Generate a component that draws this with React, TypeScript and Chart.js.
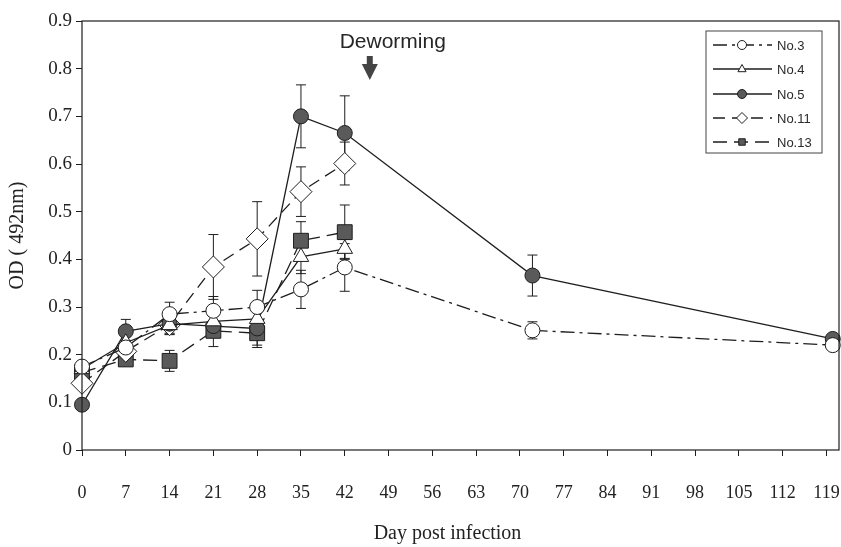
import React, { useEffect, useRef } from "react";
import { Chart, registerables } from "chart.js";

Chart.register(...registerables);

// ---- data ----
const days = [0, 7, 14, 21, 28, 35, 42, 72, 120];
const daysShort = [0, 7, 14, 21, 28, 35, 42];

const no3 = [0.175, 0.215, 0.285, 0.292, 0.3, 0.337, 0.383, 0.251, 0.22];
const no3Err = [0.01, 0.015, 0.025, 0.03, 0.035, 0.04, 0.05, 0.018, 0.008];
const no4 = [0.17, 0.225, 0.262, 0.27, 0.275, 0.405, 0.422];
const no4Err = [0.01, 0.015, 0.02, 0.03, 0.03, 0.035, 0.02];
const no5 = [0.095, 0.249, 0.265, 0.26, 0.255, 0.7, 0.665, 0.366, 0.233];
const no5Err = [0.01, 0.025, 0.02, 0.02, 0.035, 0.066, 0.078, 0.043, 0.008];
const no11 = [0.14, 0.207, 0.263, 0.384, 0.443, 0.542, 0.601];
const no11Err = [0.01, 0.015, 0.02, 0.068, 0.078, 0.052, 0.045];
const no13 = [0.163, 0.19, 0.187, 0.25, 0.245, 0.439, 0.457];
const no13Err = [0.01, 0.01, 0.022, 0.033, 0.03, 0.04, 0.057];

const seriesNames = ["No.3", "No.4", "No.5", "No.11", "No.13"];
const xTickValues = [0, 7, 14, 21, 28, 35, 42, 49, 56, 63, 70, 77, 84, 91, 98, 105, 112, 119];
const yTickValues = [0, 0.1, 0.2, 0.3, 0.4, 0.5, 0.6, 0.7, 0.8, 0.9];
const annotationText = "Deworming";
const annotationDay = 46;
const xTitle = "Day post infection";
const yTitle = "OD ( 492nm)";

const INK = "#1e1e1e";
const FILL_DARK = "#5a5a5a";
const SERIF = "'Liberation Serif', 'Times New Roman', serif";

const toPoints = (xs: number[], ys: number[]) => ys.map((y, i) => ({ x: xs[i], y }));

function drawMarker(ctx: CanvasRenderingContext2D, style: string, x: number, y: number, r: number, fill: string) {
  ctx.save();
  ctx.setLineDash([]);
  ctx.beginPath();
  if (style === "circle") {
    ctx.arc(x, y, r, 0, Math.PI * 2);
  } else if (style === "triangle") {
    ctx.moveTo(x, y - r);
    ctx.lineTo(x + r * 0.9, y + r * 0.6);
    ctx.lineTo(x - r * 0.9, y + r * 0.6);
    ctx.closePath();
  } else if (style === "rectRot") {
    ctx.moveTo(x, y - r);
    ctx.lineTo(x + r, y);
    ctx.lineTo(x, y + r);
    ctx.lineTo(x - r, y);
    ctx.closePath();
  } else {
    const s = r * 0.72;
    ctx.rect(x - s, y - s, 2 * s, 2 * s);
  }
  ctx.fillStyle = fill;
  ctx.fill();
  ctx.strokeStyle = INK;
  ctx.lineWidth = 1;
  ctx.stroke();
  ctx.restore();
}

const errorBarPlugin = {
  id: "errorBars",
  beforeDatasetsDraw(chart: any) {
    const ctx = chart.ctx;
    const yScale = chart.scales.y;
    chart.data.datasets.forEach((ds: any, di: number) => {
      const meta = chart.getDatasetMeta(di);
      if (!meta || meta.hidden) return;
      ds.errors.forEach((e: number, i: number) => {
        const el = meta.data[i];
        if (!el) return;
        const v = ds.data[i].y;
        const x = el.x;
        const yt = yScale.getPixelForValue(v + e);
        const yb = yScale.getPixelForValue(v - e);
        ctx.save();
        ctx.strokeStyle = INK;
        ctx.lineWidth = 1;
        ctx.setLineDash([]);
        ctx.beginPath();
        ctx.moveTo(x, yt);
        ctx.lineTo(x, yb);
        ctx.moveTo(x - 5, yt);
        ctx.lineTo(x + 5, yt);
        ctx.moveTo(x - 5, yb);
        ctx.lineTo(x + 5, yb);
        ctx.stroke();
        ctx.restore();
      });
    });
  },
};

const framePlugin = {
  id: "frameAndExtras",
  afterDraw(chart: any) {
    const ctx = chart.ctx;
    const a = chart.chartArea;
    ctx.save();
    ctx.strokeStyle = INK;
    ctx.lineWidth = 1.2;
    ctx.setLineDash([]);
    ctx.strokeRect(a.left, a.top, a.right - a.left, a.bottom - a.top);

    // x axis title (slightly left of centre, as in the reference)
    ctx.fillStyle = "#222";
    ctx.font = `20px ${SERIF}`;
    ctx.textAlign = "center";
    ctx.textBaseline = "middle";
    ctx.fillText(xTitle, (a.left + a.right) / 2 - 13, 534);

    // Deworming annotation
    const ax = chart.scales.x.getPixelForValue(annotationDay);
    ctx.fillStyle = "#262626";
    ctx.font = "21px 'Liberation Sans', Arial, sans-serif";
    ctx.textAlign = "center";
    ctx.textBaseline = "middle";
    ctx.fillText(annotationText, ax + 23, a.top + 21);
    ctx.fillStyle = "#444";
    ctx.beginPath();
    ctx.rect(ax - 3, a.top + 35, 6, 10);
    ctx.fill();
    ctx.beginPath();
    ctx.moveTo(ax - 8, a.top + 43);
    ctx.lineTo(ax + 8, a.top + 43);
    ctx.lineTo(ax, a.top + 59);
    ctx.closePath();
    ctx.fill();

    // Legend box
    const bx = 706, by = 31, bw = 116, bh = 122;
    ctx.fillStyle = "#fff";
    ctx.fillRect(bx, by, bw, bh);
    ctx.strokeStyle = "#444";
    ctx.lineWidth = 1;
    ctx.strokeRect(bx, by, bw, bh);
    const rows = [45, 69, 94, 118, 142];
    chart.data.datasets.forEach((ds: any, i: number) => {
      const ry = rows[i];
      ctx.save();
      ctx.strokeStyle = INK;
      ctx.lineWidth = 1.3;
      ctx.setLineDash(ds.borderDash || []);
      ctx.beginPath();
      ctx.moveTo(bx + 7, ry);
      ctx.lineTo(bx + 66, ry);
      ctx.stroke();
      ctx.restore();
      drawMarker(ctx, ds.pointStyle, bx + 36, ry, ds.pointStyle === "rectRot" ? 5.5 : 4.5, ds.pointBackgroundColor);
      ctx.fillStyle = "#2a2a2a";
      ctx.font = "13px 'Liberation Sans', Arial, sans-serif";
      ctx.textAlign = "left";
      ctx.textBaseline = "middle";
      ctx.fillText(ds.label, bx + 71, ry + 1);
    });
    ctx.restore();
  },
};

export default function App() {
  const ref = useRef<HTMLCanvasElement | null>(null);

  useEffect(() => {
    document.body.style.margin = "0";
    const canvas = ref.current;
    if (!canvas) return;

    const mk = (label: string, xs: number[], ys: number[], errs: number[], style: string, radius: number, fill: string, dash: number[]) => ({
      label,
      data: toPoints(xs, ys),
      errors: errs,
      borderColor: INK,
      borderWidth: 1.3,
      borderDash: dash,
      pointStyle: style,
      pointRadius: radius,
      pointBackgroundColor: fill,
      pointBorderColor: INK,
      pointBorderWidth: 1,
      showLine: true,
      fill: false,
      tension: 0,
      clip: false,
    });

    const chart = new Chart(canvas, {
      type: "scatter",
      data: {
        datasets: [
          mk(seriesNames[0], days, no3, no3Err, "circle", 7.5, "#ffffff", [14, 5, 3, 5]),
          mk(seriesNames[1], daysShort, no4, no4Err, "triangle", 9, "#ffffff", []),
          mk(seriesNames[2], days, no5, no5Err, "circle", 7.5, FILL_DARK, []),
          mk(seriesNames[3], daysShort, no11, no11Err, "rectRot", 11, "#ffffff", [12, 7]),
          mk(seriesNames[4], daysShort, no13, no13Err, "rect", 10.5, FILL_DARK, [14, 7]),
        ] as any,
      },
      options: {
        responsive: false,
        animation: false,
        devicePixelRatio: 1,
        layout: { autoPadding: false, padding: { top: 21, right: 2, left: 0, bottom: 0 } },
        plugins: {
          legend: { display: false },
          tooltip: { enabled: false },
        },
        scales: {
          x: {
            type: "linear",
            min: 0,
            max: 121,
            afterBuildTicks: (s: any) => {
              s.ticks = xTickValues.map((v) => ({ value: v }));
            },
            afterFit: (s: any) => {
              s.height = 97;
              s.paddingLeft = 0;
              s.paddingRight = 0;
            },
            grid: { display: true, drawOnChartArea: false, drawTicks: true, tickLength: 6, color: INK },
            border: { display: false },
            ticks: {
              autoSkip: false,
              maxRotation: 0,
              padding: 26,
              color: "#222",
              font: { family: SERIF, size: 18 },
              callback: (v: any) => String(v),
            },
            title: { display: false },
          },
          y: {
            type: "linear",
            min: 0,
            max: 0.9,
            afterBuildTicks: (s: any) => {
              s.ticks = yTickValues.map((v) => ({ value: v }));
            },
            afterFit: (s: any) => {
              s.width = 82;
              s.paddingTop = 0;
              s.paddingBottom = 0;
            },
            grid: { display: true, drawOnChartArea: false, drawTicks: true, tickLength: 6, color: INK },
            border: { display: false },
            ticks: {
              padding: 4,
              color: "#222",
              font: { family: SERIF, size: 19 },
              callback: (v: any) => (Number(v) === 0 ? "0" : Number(v).toFixed(1)),
            },
            title: {
              display: true,
              text: yTitle,
              color: "#222",
              font: { family: SERIF, size: 20 },
              padding: { top: 6, bottom: 0 },
            },
          },
        },
      },
      plugins: [errorBarPlugin, framePlugin],
    } as any);

    return () => chart.destroy();
  }, []);

  return (
    <div style={{ width: 841, height: 547, background: "#fff" }}>
      <canvas ref={ref} width={841} height={547} style={{ display: "block" }} />
    </div>
  );
}
